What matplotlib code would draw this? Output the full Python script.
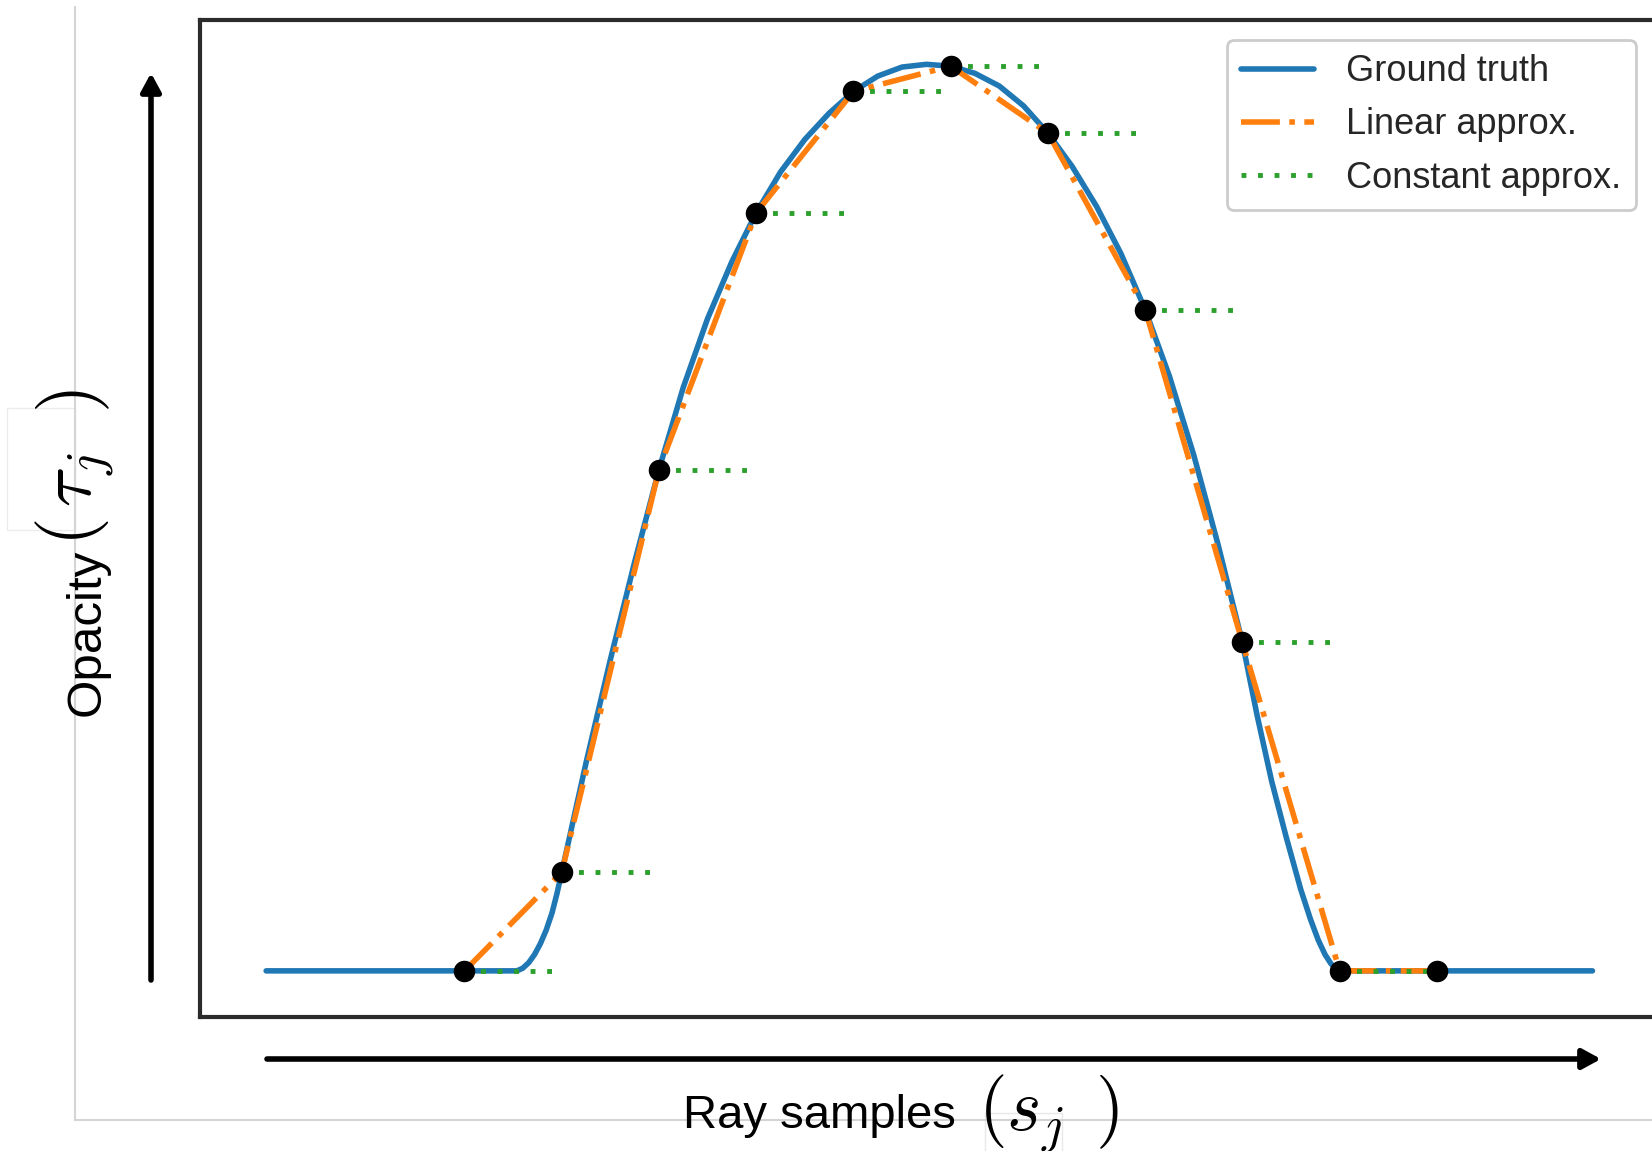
import matplotlib
matplotlib.use("Agg")
import matplotlib.pyplot as plt
from matplotlib.patches import Rectangle
from matplotlib.lines import Line2D
from matplotlib.transforms import IdentityTransform

plt.rcParams['font.family'] = ['Liberation Sans', 'DejaVu Sans']
plt.rcParams['mathtext.fontset'] = 'cm'

# ray sample positions and the opacity read at each one
sample_x = [0, 1, 2, 3, 4, 5, 6, 7, 8, 9, 10]
sample_y = [0.0, 0.109, 0.554, 0.838, 0.972, 1.0, 0.926, 0.731, 0.363, 0.0, 0.0]

# ground truth curve
truth_x = [-2.04, 0.54, 0.60, 0.66, 0.72, 0.78, 0.84, 0.90, 0.95, 1.00, 1.25,
           1.50, 1.75, 2.00, 2.25, 2.50, 2.75, 3.00, 3.25, 3.50, 3.75, 4.00,
           4.25, 4.50, 4.75, 5.00, 5.25, 5.50, 5.75, 6.00, 6.25, 6.50, 6.75,
           7.00, 7.25, 7.50, 7.75, 8.00, 8.15, 8.30, 8.45, 8.60, 8.70, 8.78,
           8.85, 8.91, 8.96, 9.00, 11.6]
truth_y = [0.0, 0.0, 0.003, 0.009, 0.018, 0.030, 0.045, 0.064, 0.085, 0.109,
           0.230, 0.344, 0.452, 0.554, 0.645, 0.721, 0.784, 0.838, 0.883,
           0.919, 0.948, 0.972, 0.989, 0.999, 1.002, 1.000, 0.992, 0.978,
           0.956, 0.926, 0.889, 0.845, 0.793, 0.731, 0.657, 0.570, 0.471,
           0.363, 0.283, 0.210, 0.148, 0.090, 0.057, 0.034, 0.018, 0.008,
           0.002, 0.0, 0.0]

labels = ['Ground truth', 'Linear approx.', 'Constant approx.']

W, H = 1652, 1151
fig = plt.figure(figsize=(W / 100, H / 100), dpi=100)
px = IdentityTransform()

# faint frame left over from the pasted figure
fig.add_artist(Line2D([75, 75], [H - 7, H - 1120], color='#d4d4d4', lw=1.5, transform=px))
fig.add_artist(Line2D([75, W], [H - 1120, H - 1120], color='#d4d4d4', lw=1.5, transform=px))
fig.add_artist(Rectangle((7, H - 530), 68, 122, facecolor='white', edgecolor='#ececec',
                         lw=1, transform=px))
fig.add_artist(Rectangle((985, -5), 77, H - 1113 + 5, facecolor='white', edgecolor='#e8e8e8',
                         lw=1, transform=px))

ax = fig.add_axes([200 / W, (H - 1017) / H, 1458.6 / W, 997 / H])
ax.set_xlim(-2.72, 12.28)
ax.set_ylim(-0.051, 1.051)
ax.set_xticks([])
ax.set_yticks([])
for sp in ax.spines.values():
    sp.set_linewidth(3)
    sp.set_color('#2b2b2b')

ax.plot(truth_x, truth_y, color='#1f77b4', lw=4, solid_capstyle='round',
        solid_joinstyle='round', label=labels[0], zorder=2)
ax.plot(sample_x, sample_y, color='#ff7f0e', lw=4, linestyle=(0, (7.0, 1.7, 1.0, 1.7)),
        label=labels[1], zorder=3)
ax.hlines(sample_y[:-1], sample_x[:-1], sample_x[1:], colors='#2ca02c', lw=3.5,
          linestyles=[(0, (1, 2.4))], label=labels[2], zorder=4)
ax.plot(sample_x, sample_y, 'o', color='black', ms=14.5, zorder=5)

leg = fig.legend(loc='upper left', bbox_to_anchor=(1227 / W, 1 - 40 / H), borderaxespad=0,
                 fontsize=26, handlelength=2.0, handletextpad=0.9, framealpha=1,
                 edgecolor='#cccccc', fancybox=True)
leg.get_frame().set_linewidth(2)
for t in leg.get_texts():
    t.set_color('#262626')

# axis arrows
arrow = dict(arrowstyle='-|>,head_length=0.55,head_width=0.3', lw=4, color='black',
             mutation_scale=20, shrinkA=0, shrinkB=0)
ax.annotate('', xy=(151, H - 73), xytext=(151, H - 980), xycoords='figure pixels',
            textcoords='figure pixels', arrowprops=arrow)
ax.annotate('', xy=(1601, H - 1059), xytext=(267, H - 1059), xycoords='figure pixels',
            textcoords='figure pixels', arrowprops=arrow)

# axis labels: plain words plus a larger math part
fig.text(100, H - 716, 'Opacity', rotation=90, rotation_mode='anchor', ha='left',
         va='baseline', fontsize=35.5, transform=px)
fig.text(92, H - 546, r'$(\,\tau_j\;\;)$', rotation=90, rotation_mode='anchor', ha='left',
         va='baseline', fontsize=53, transform=px)
fig.text(683, H - 1128, 'Ray samples', ha='left', va='baseline', fontsize=34, transform=px)
fig.text(978, H - 1131, r'$(s_j\;\,)$', ha='left', va='baseline', fontsize=53, transform=px)

fig.savefig('out.png', dpi=100)
